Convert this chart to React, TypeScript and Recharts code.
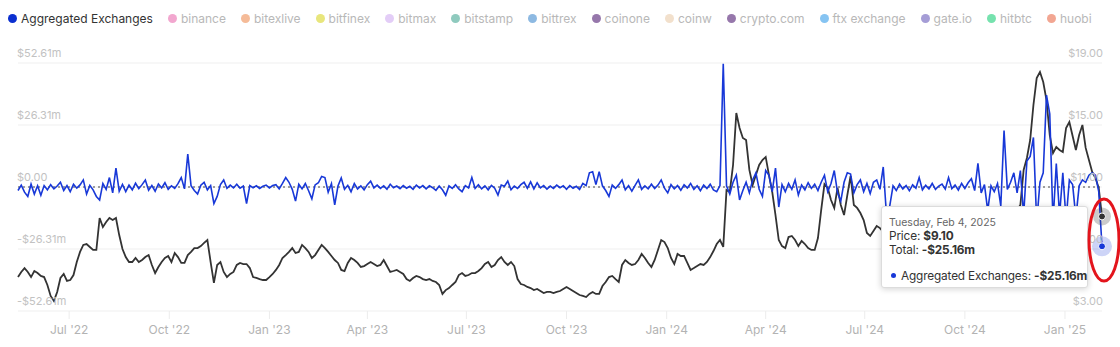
import React from "react";
import { ComposedChart, Line, XAxis, YAxis, CartesianGrid, Tooltip, ReferenceLine } from "recharts";

// one reading every 3 days, starting 15 May 2022, ending 4 Feb 2025
const START = Date.UTC(2022, 4, 15);
const DAY = 86400000;
const STEP_DAYS = 3;

const prices = [
  5.19, 5.52, 5.77, 5.52, 5.19, 5.58, 5.45, 5.26, 5.19, 4.68,
  3.97, 3.65, 4.23, 5.13, 5.39, 4.94, 5.0, 5.32, 6.16, 6.81,
  7.26, 7.32, 7.13, 6.94, 6.94, 9.0, 8.42, 8.74, 9.0, 8.87,
  9.0, 7.9, 7.0, 6.48, 6.16, 6.16, 6.42, 6.16, 6.29, 6.48,
  6.61, 5.97, 5.45, 5.84, 6.16, 6.42, 6.55, 6.16, 6.74, 6.48,
  6.1, 6.1, 6.61, 6.81, 7.06, 7.06, 7.19, 7.39, 7.58, 6.16,
  4.81, 5.97, 6.16, 5.52, 5.19, 5.39, 5.52, 5.97, 6.1, 6.03,
  6.03, 5.77, 5.19, 5.13, 5.06, 5.0, 5.0, 5.19, 5.39, 5.65,
  5.97, 6.42, 6.61, 6.81, 7.06, 6.74, 6.81, 7.26, 7.06, 6.81,
  6.42, 6.61, 6.94, 7.26, 7.06, 6.81, 6.55, 6.29, 6.1, 5.65,
  5.58, 6.1, 6.42, 6.29, 6.1, 5.84, 5.9, 6.03, 6.16, 6.03,
  5.9, 5.97, 6.29, 5.9, 5.52, 5.58, 5.65, 5.52, 5.39, 5.06,
  4.94, 5.13, 5.26, 5.19, 5.06, 5.0, 5.06, 4.94, 4.87, 4.68,
  4.1, 4.35, 4.48, 4.68, 4.87, 5.32, 5.45, 5.26, 5.32, 5.45,
  5.45, 5.58, 5.77, 6.03, 6.16, 5.84, 5.97, 6.29, 6.48, 6.16,
  5.97, 6.16, 5.9, 5.06, 4.74, 4.68, 4.55, 4.48, 4.35, 4.42,
  4.29, 4.16, 4.23, 4.23, 4.16, 4.23, 4.29, 4.42, 4.55, 4.42,
  4.29, 4.16, 4.03, 3.97, 3.9, 4.1, 4.23, 4.1, 4.1, 4.61,
  4.87, 5.19, 5.26, 5.06, 4.87, 5.97, 6.29, 6.1, 5.97, 6.03,
  6.29, 6.68, 6.42, 6.1, 5.84, 6.29, 6.94, 7.58, 7.45, 7.06,
  6.42, 6.03, 6.68, 6.55, 6.55, 6.1, 5.65, 5.77, 5.9, 6.03,
  5.97, 6.16, 6.48, 6.87, 7.32, 7.58, 7.13, 10.81, 10.68, 12.42,
  15.77, 14.81, 14.16, 14.03, 12.1, 11.13, 11.77, 12.42, 12.74, 12.94,
  11.77, 10.68, 9.19, 7.58, 7.19, 7.06, 7.77, 7.84, 7.58, 7.19,
  7.52, 7.32, 7.06, 6.94, 6.94, 7.71, 9.52, 11.19, 10.94, 10.16,
  9.65, 10.94, 9.84, 9.19, 10.48, 11.71, 9.84, 9.65, 9.32, 8.87,
  8.03, 7.84, 8.16, 8.48, 8.35, 8.1, 7.9, 7.71, 7.52, 7.58,
  7.32, 7.19, 7.39, 7.58, 7.71, 7.52, 7.26, 7.06, 6.94, 7.13,
  7.32, 7.19, 7.0, 6.81, 6.94, 7.19, 7.39, 7.58, 7.45, 7.71,
  7.9, 8.1, 7.97, 7.84, 8.03, 8.29, 8.16, 8.35, 8.61, 8.48,
  8.74, 8.87, 8.61, 8.81, 9.13, 9.39, 9.52, 9.84, 12.1, 12.87,
  14.03, 16.29, 18.03, 18.42, 17.77, 16.61, 14.35, 13.19, 13.58, 13.39,
  13.26, 14.81, 15.19, 14.29, 13.39, 14.35, 15.0, 13.52, 12.74, 11.97,
  11.58, 10.94, 9.1,
];

// net flow, millions of dollars
const flows = [
  -1.5, 0.8, -2.2, -4.0, 1.2, -3.0, 0.5, -3.5, 0.6, -1.2,
  1.0, -0.8, 0.4, 2.0, -1.5, 0.6, -2.0, 1.2, -0.5, 0.9,
  3.0, -3.0, 0.7, -1.2, -4.0, -5.5, 1.5, -1.0, 4.0, -2.5,
  8.0, -1.8, 1.1, -2.0, 0.8, -1.2, 1.6, -0.7, 1.0, 3.0,
  -1.4, 0.6, -1.8, 1.3, -0.4, 1.8, -1.0, 0.5, -0.6, 1.4,
  4.0, -0.8, 14.0, 0.5, -1.5, -3.0, 0.8, 2.0, -1.2, 0.6,
  -7.0, -4.0, 1.0, 3.0, -0.6, 0.8, -0.4, 1.2, -0.5, 0.4,
  -7.0, 0.6, -0.3, 0.5, -0.6, 0.3, 0.8, -0.4, 0.6, 1.0,
  -0.8, 1.5, 4.0, 2.0, -1.0, -6.0, 1.2, -0.8, 1.5, -1.6,
  -5.0, 0.9, 1.8, 4.5, 4.0, -2.2, 1.4, -7.6, 0.4, 3.8,
  -1.0, 0.7, -2.0, 1.5, -0.8, 0.5, -1.2, 1.0, 2.5, -0.4,
  0.8, -0.6, 0.5, -0.9, 1.2, -0.3, 0.4, -0.7, 0.6, -0.5,
  0.3, -1.0, 0.8, -0.4, 0.6, -0.8, 0.5, -0.3, -1.4, 0.4,
  -1.2, -3.5, 0.5, -0.6, 1.0, -0.8, -2.0, 0.6, -0.4, 4.0,
  -0.6, 1.0, -0.8, 0.5, -1.2, 0.7, -0.5, -3.4, 0.8, 0.3,
  2.5, -1.2, 0.4, -0.6, 1.0, 2.0, -0.5, 2.2, -0.8, 1.8,
  -0.4, 0.6, -0.9, 0.4, -0.6, 0.8, -0.3, 0.5, -1.0, 0.6,
  -0.5, 0.3, -1.0, 1.5, 0.6, 6.0, 6.5, 1.0, 6.5, 0.5,
  -1.5, -4.0, 0.8, -0.6, 1.0, 3.0, -1.2, 0.6, -1.8, 0.7,
  3.0, -1.0, 0.5, -0.8, 1.2, -0.6, 0.8, 3.0, -0.5, -2.5,
  1.0, -0.8, 0.6, -1.4, 0.9, -0.4, 1.5, -1.0, 0.5, -1.6,
  0.8, -0.6, 1.2, -1.2, -2.0, 0.6, 52.3, 0.5, -3.0, 2.0,
  5.0, -5.5, -1.5, 2.0, -2.5, 3.0, 6.0, -1.0, -4.0, 7.0,
  5.0, -2.0, 8.0, -8.5, 1.0, -2.0, 1.5, -1.0, 3.0, -3.4,
  0.8, -1.2, 1.8, -0.6, 1.2, -1.5, 2.0, 5.0, -2.0, 1.5,
  7.0, -2.5, -6.0, 2.0, 6.0, 5.5, -2.5, 1.0, 3.0, -2.0,
  1.5, -2.8, 2.0, 3.0, -1.0, 8.5, -12.0, -8.0, 0.5, -1.5,
  1.2, -0.8, 0.6, -1.6, 0.9, -0.5, 4.0, -1.2, 0.7, -0.8,
  1.5, -1.0, 0.4, 1.2, -0.9, 4.0, -0.7, 0.8, -1.3, 1.5,
  -0.6, 1.8, 3.5, -1.5, 10.0, -2.5, 1.0, -10.0, 0.5, -2.0,
  1.5, -8.0, 24.0, -1.0, 2.0, 6.0, -2.5, 7.0, -12.0, 11.0,
  13.0, 21.0, -15.0, 2.0, 6.0, 39.0, 31.0, -15.0, 10.0, -12.0,
  6.0, -14.0, 3.0, 1.0, -13.0, 0.5, 3.0, 2.0, 5.0, 6.0,
  5.0, -2.0, -25.16,
];

const exchanges = [
  { name: "Aggregated Exchanges", color: "#0b2fd0", on: true },
  { name: "binance", color: "#f2a7cf" },
  { name: "bitexlive", color: "#f5bb98" },
  { name: "bitfinex", color: "#e8e67c" },
  { name: "bitmax", color: "#e3cdf7" },
  { name: "bitstamp", color: "#8fcabe" },
  { name: "bittrex", color: "#8db9e2" },
  { name: "coinone", color: "#9677ab" },
  { name: "coinw", color: "#f2e0cc" },
  { name: "crypto.com", color: "#9677ab" },
  { name: "ftx exchange", color: "#86c4f2" },
  { name: "gate.io", color: "#a59dd6" },
  { name: "hitbtc", color: "#76e2ae" },
  { name: "huobi", color: "#f2a692" },
];

const monthTicks = [
  Date.UTC(2022, 6, 1), Date.UTC(2022, 9, 1), Date.UTC(2023, 0, 1), Date.UTC(2023, 3, 1),
  Date.UTC(2023, 6, 1), Date.UTC(2023, 9, 1), Date.UTC(2024, 0, 1), Date.UTC(2024, 3, 1),
  Date.UTC(2024, 6, 1), Date.UTC(2024, 9, 1), Date.UTC(2025, 0, 1),
];
const flowTicks = [-52.61, -26.31, 0, 26.31, 52.61];
const priceTicks = [3, 7, 11, 15, 19];

const data = prices.map((p, i) => ({ t: START + i * STEP_DAYS * DAY, price: p, flow: flows[i] }));

const MONTHS = ["Jan", "Feb", "Mar", "Apr", "May", "Jun", "Jul", "Aug", "Sep", "Oct", "Nov", "Dec"];
const FONT = "Inter, 'Noto Sans', sans-serif";
const BLUE = "#1838d8";

const fmtM = (v: number) => (v === 0 ? "$0.00" : (v < 0 ? "-" : "") + "$" + Math.abs(v).toFixed(2) + "m");
const fmtP = (v: number) => "$" + v.toFixed(2);
const fmtMonth = (t: number) => {
  const d = new Date(t);
  return MONTHS[d.getUTCMonth()] + " '" + String(d.getUTCFullYear()).slice(2);
};

const LeftTick = (props: any) => (
  <text x={17} y={props.y - 6} fill="#c2c2c2" fontSize={11} fontFamily={FONT} textAnchor="start">
    {fmtM(props.payload.value)}
  </text>
);

const RightTick = (props: any) => (
  <text x={1103} y={props.y - 6} fill="#c2c2c2" fontSize={11} fontFamily={FONT} textAnchor="end">
    {fmtP(props.payload.value)}
  </text>
);

const TipBox = (props: any) => {
  const { active, payload } = props;
  if (!active || !payload || !payload.length) return null;
  const row = payload[0].payload;
  const date = new Date(row.t).toLocaleDateString("en-US", {
    weekday: "long", month: "short", day: "numeric", year: "numeric", timeZone: "UTC",
  });
  return (
    <div
      style={{
        width: 207, height: 82, boxSizing: "border-box", background: "#fff",
        border: "1px solid #dcdcdc", borderRadius: 3, boxShadow: "0 1px 6px rgba(0,0,0,0.18)",
        padding: "9px 7px 0 7px", fontFamily: FONT, color: "#333", fontSize: 11.8,
        letterSpacing: -0.15, whiteSpace: "nowrap",
      }}
    >
      <div style={{ fontSize: 10.5, lineHeight: "13px", color: "#666", letterSpacing: 0 }}>{date}</div>
      <div style={{ lineHeight: "14px" }}>Price: <b>{fmtP(row.price)}</b></div>
      <div style={{ lineHeight: "14px" }}>Total: <b>{fmtM(row.flow)}</b></div>
      <div style={{ lineHeight: "14px", marginTop: 12 }}>
        <span style={{ display: "inline-block", width: 5, height: 5, borderRadius: 3, background: BLUE, margin: "0 5px 2px 2px" }} />
        Aggregated Exchanges: <b>{fmtM(row.flow)}</b>
      </div>
    </div>
  );
};

const PriceDot = (props: any) => (
  <g>
    <circle cx={props.cx} cy={props.cy} r={9} fill="rgba(70,70,70,0.28)" />
    <circle cx={props.cx} cy={props.cy} r={3.5} fill="#333" stroke="#fff" strokeWidth={1} />
  </g>
);

const FlowDot = (props: any) => (
  <g>
    <circle cx={props.cx} cy={props.cy} r={10} fill="rgba(27,59,217,0.22)" />
    <circle cx={props.cx} cy={props.cy} r={3.5} fill={BLUE} stroke="#fff" strokeWidth={1} />
  </g>
);

export default function App() {
  return (
    <div style={{ position: "absolute", left: 0, top: 0, width: 1120, height: 347, background: "#fff", overflow: "hidden" }}>
      <div
        style={{
          position: "absolute", left: 8, top: 11, display: "flex", alignItems: "center",
          fontFamily: FONT, fontSize: 12, whiteSpace: "nowrap",
        }}
      >
        {exchanges.map((e) => (
          <div key={e.name} style={{ display: "flex", alignItems: "center", marginRight: 15, color: e.on ? "#333" : "#b8b8b8" }}>
            <span style={{ width: 9, height: 9, borderRadius: 5, background: e.color, marginRight: 4 }} />
            {e.name}
          </div>
        ))}
      </div>

      <ComposedChart width={1120} height={347} data={data} margin={{ top: 63, right: 18, bottom: 6, left: 18 }}>
        <CartesianGrid yAxisId="flow" vertical={false} stroke="#efefef" />
        <XAxis
          dataKey="t"
          type="number"
          domain={[data[0].t, data[data.length - 1].t]}
          ticks={monthTicks}
          tickFormatter={fmtMonth}
          height={30}
          axisLine={false}
          tickLine={{ stroke: "#ececec" }}
          tickSize={8}
          tickMargin={6}
          tick={{ fill: "#b3b3b3", fontSize: 12, fontFamily: FONT }}
        />
        <YAxis yAxisId="flow" mirror width={60} domain={[-52.61, 52.61]} ticks={flowTicks} interval={0} axisLine={false} tickLine={false} tick={<LeftTick />} />
        <YAxis yAxisId="price" mirror orientation="right" width={60} domain={[3, 19]} ticks={priceTicks} interval={0} axisLine={false} tickLine={false} tick={<RightTick />} />
        <Line
          yAxisId="price"
          dataKey="price"
          type="linear"
          stroke="#333"
          strokeWidth={1.8}
          dot={false}
          activeDot={<PriceDot />}
          isAnimationActive={false}
        />
        <ReferenceLine yAxisId="flow" y={0} stroke="#444" strokeDasharray="2 3" />
        <Line
          yAxisId="flow"
          dataKey="flow"
          type="linear"
          stroke={BLUE}
          strokeWidth={1.6}
          dot={false}
          activeDot={<FlowDot />}
          isAnimationActive={false}
        />
        <Tooltip
          active
          defaultIndex={data.length - 1}
          cursor={false}
          position={{ x: 881, y: 206 }}
          content={<TipBox />}
          isAnimationActive={false}
          wrapperStyle={{ pointerEvents: "none" }}
        />
      </ComposedChart>

      <svg width={1120} height={347} style={{ position: "absolute", left: 0, top: 0, pointerEvents: "none" }}>
        <ellipse cx={1104} cy={240} rx={15} ry={41} fill="none" stroke="#e3141c" strokeWidth={3} />
      </svg>
    </div>
  );
}
